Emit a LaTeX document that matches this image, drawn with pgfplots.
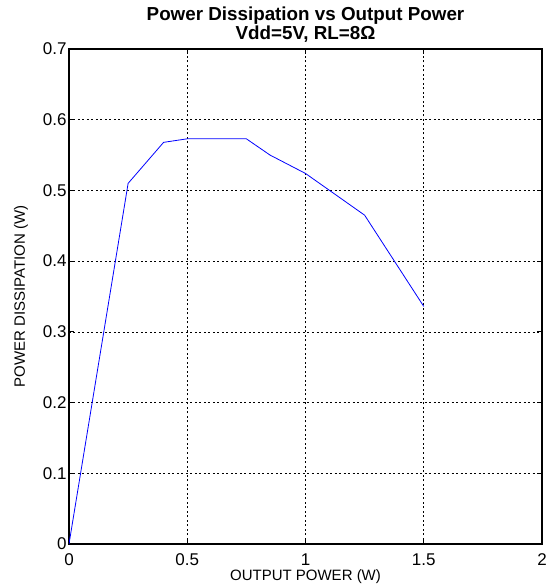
\documentclass[border=0pt]{standalone}
\usepackage{pgfplots}
\pgfplotsset{compat=1.18}
\usepackage{fontspec}
\setmainfont{Liberation Sans}
\begin{document}
\begin{tikzpicture}
\begin{axis}[
  at={(0,0)}, anchor=south west,
  scale only axis,
  width=473pt, height=495pt,
  xmin=0, xmax=2, ymin=0, ymax=0.7,
  xtick={0,0.5,1,1.5,2},
  ytick={0,0.1,0.2,0.3,0.4,0.5,0.6,0.7},
  xticklabels={0,0.5,1,1.5,2},
  yticklabels={0,0.1,0.2,0.3,0.4,0.5,0.6,0.7},
  tick align=inside,
  major tick length=5pt,
  tick style={black, line width=0.8pt},
  axis line style={black, line width=1.5pt},
  grid=major,
  major grid style={black, line width=0.6pt, dash pattern=on 2pt off 2.5pt},
  ticklabel style={font=\fontsize{17}{17}\selectfont},
  xticklabel style={yshift=-6pt},
  yticklabel style={xshift=1pt},
  xlabel={OUTPUT POWER (W)},
  ylabel={POWER DISSIPATION (W)},
  label style={font=\fontsize{15}{15}\selectfont},
  xlabel style={yshift=3pt},
  ylabel style={yshift=8pt},
  title={Power Dissipation vs Output Power\\Vdd=5V, RL=8Ω},
  title style={font=\bfseries\fontsize{18.8}{19.5}\selectfont, align=center, yshift=-3pt},
]
\addplot[blue, line width=0.8pt] coordinates {
  (0,0) (0.25,0.51) (0.4,0.568) (0.5,0.573) (0.75,0.573)
  (0.85,0.55) (1.0,0.524) (1.25,0.465) (1.5,0.336)
};
\end{axis}
\pgfresetboundingbox
\path (-69pt,-43pt) rectangle (485pt,544pt);
\end{tikzpicture}
\end{document}
